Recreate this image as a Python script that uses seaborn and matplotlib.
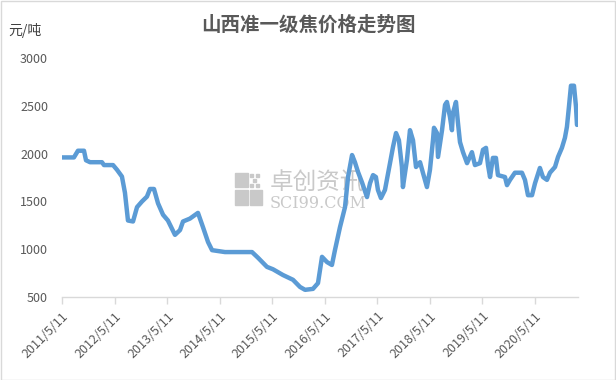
import pandas as pd
import matplotlib
matplotlib.use('Agg')
import matplotlib.pyplot as plt
import seaborn as sns
from matplotlib.patches import Rectangle

# Price data (元/吨)
dates = [
    '2011-05-11', '2011-08-02', '2011-08-30', '2011-10-11', '2011-10-25', '2011-11-22',
    '2012-02-13', '2012-02-27', '2012-04-30', '2012-05-28', '2012-07-01', '2012-07-22',
    '2012-08-12', '2012-09-16', '2012-10-14', '2012-11-18', '2012-12-22', '2013-01-12',
    '2013-02-09', '2013-03-09', '2013-04-13', '2013-05-17', '2013-07-05', '2013-08-09',
    '2013-08-30', '2013-10-17', '2013-12-12', '2014-01-16', '2014-02-20', '2014-03-20',
    '2014-06-18', '2014-12-23', '2015-02-03', '2015-04-06', '2015-05-18', '2015-07-26',
    '2015-10-04', '2015-11-22', '2015-12-27', '2016-02-20', '2016-03-26', '2016-04-23',
    '2016-05-28', '2016-07-01', '2016-07-22', '2016-08-26', '2016-09-30', '2016-10-21',
    '2016-11-18', '2016-12-08', '2016-12-29', '2017-01-26', '2017-03-02', '2017-03-23',
    '2017-04-13', '2017-05-03', '2017-05-17', '2017-06-07', '2017-07-05', '2017-08-09',
    '2017-08-30', '2017-09-20', '2017-10-10', '2017-10-31', '2017-11-07', '2017-12-05',
    '2017-12-26', '2018-01-16', '2018-02-06', '2018-03-06', '2018-03-26', '2018-04-23',
    '2018-05-14', '2018-06-04', '2018-06-11', '2018-07-02', '2018-07-09', '2018-08-06',
    '2018-08-27', '2018-09-09', '2018-09-30', '2018-10-14', '2018-10-21', '2018-11-11',
    '2018-11-25', '2018-12-09', '2018-12-30', '2019-01-27', '2019-03-02', '2019-03-23',
    '2019-04-27', '2019-05-18', '2019-06-08', '2019-06-22', '2019-07-06', '2019-07-26',
    '2019-08-16', '2019-08-30', '2019-10-18', '2019-11-01', '2019-11-22', '2019-12-26',
    '2020-02-13', '2020-03-05', '2020-03-26', '2020-04-23', '2020-05-14', '2020-06-17',
    '2020-07-08', '2020-08-05', '2020-08-26', '2020-09-30', '2020-10-21', '2020-11-17',
    '2020-12-08', '2020-12-22', '2021-01-05', '2021-01-19', '2021-02-09', '2021-02-23',
    '2021-03-02',
]
prices = [
    1960, 1960, 2030, 2030, 1930, 1910,
    1910, 1880, 1880, 1830, 1760, 1590,
    1300, 1290, 1440, 1500, 1550, 1630,
    1630, 1480, 1360, 1300, 1150, 1200,
    1290, 1320, 1380, 1230, 1075, 990,
    970, 970, 910, 815, 790, 730,
    680, 605, 575, 585, 645, 920,
    865, 835, 990, 1230, 1440, 1755,
    1985, 1910, 1810, 1700, 1545, 1690,
    1775, 1755, 1620, 1535, 1620, 1900,
    2070, 2215, 2140, 1860, 1650, 1935,
    2245, 2140, 1860, 1910, 1800, 1650,
    1830, 2140, 2270, 2215, 1965, 2245,
    2510, 2540, 2385, 2245, 2425, 2540,
    2320, 2120, 2015, 1900, 2015, 1880,
    1900, 2040, 2060, 1880, 1755, 1955,
    1955, 1775, 1755, 1670, 1725, 1800,
    1800, 1725, 1565, 1565, 1690, 1850,
    1755, 1725, 1800, 1860, 1965, 2060,
    2165, 2280, 2490, 2710, 2710, 2490,
    2300,
]

tick_dates = ['2011-05-11', '2012-05-11', '2013-05-11', '2014-05-11', '2015-05-11',
              '2016-05-11', '2017-05-11', '2018-05-11', '2019-05-11', '2020-05-11']
tick_labels = ['2011/5/11', '2012/5/11', '2013/5/11', '2014/5/11', '2015/5/11',
               '2016/5/11', '2017/5/11', '2018/5/11', '2019/5/11', '2020/5/11']
y_ticks = [500, 1000, 1500, 2000, 2500, 3000]

df = pd.DataFrame({'date': pd.to_datetime(dates), 'price': prices})

sns.set_theme(style='white')
plt.rcParams['font.family'] = ['Noto Sans CJK SC', 'DejaVu Sans']

fig = plt.figure(figsize=(6.16, 3.80), dpi=100)
ax = fig.add_axes([62 / 616, 1 - 297 / 380, (578 - 62) / 616, (297 - 58) / 380])
ax.set_zorder(2)

sns.lineplot(data=df, x='date', y='price', ax=ax, color='#5b9bd5', linewidth=3.2)

ax.set_xlim(pd.Timestamp('2011-05-11'), pd.Timestamp('2021-03-09'))
ax.set_ylim(500, 3000)
ax.set_yticks(y_ticks)
ax.set_yticklabels([str(v) for v in y_ticks], fontsize=9, color='#595959')
ax.set_xticks(pd.to_datetime(tick_dates))
ax.set_xticklabels(tick_labels, rotation=45, ha='right', rotation_mode='anchor',
                   fontsize=9, color='#595959')
ax.tick_params(axis='x', direction='out', length=5, width=1, color='#d9d9d9', pad=4,
               bottom=True)
ax.tick_params(axis='y', length=0, pad=10)
ax.set_xlabel('')
ax.set_ylabel('')
for side in ['top', 'right', 'left']:
    ax.spines[side].set_visible(False)
ax.spines['bottom'].set_color('#d9d9d9')
ax.spines['bottom'].set_linewidth(1)
ax.patch.set_alpha(0)

# Title and unit
fig.text(0.5, 1 - 25 / 380, '山西准一级焦价格走势图', ha='center', va='center',
         fontsize=14, fontweight='bold', color='#595959')
fig.text(8 / 616, 1 - 30 / 380, '元/吨', ha='left', va='center', fontsize=10, color='#404040')

# Watermark
wm = '#c9c9c9'
for (x0, y0, w, h) in [(235, 173, 13, 14), (235, 190, 13, 15), (250, 190, 12, 15)]:
    fig.add_artist(Rectangle((x0 / 616, 1 - (y0 + h) / 380), w / 616, h / 380,
                             transform=fig.transFigure, color=wm, zorder=0))
for (x0, y0) in [(250, 174), (256, 174), (253, 179), (250, 184), (256, 184)]:
    fig.add_artist(Rectangle((x0 / 616, 1 - (y0 + 3) / 380), 3 / 616, 3 / 380,
                             transform=fig.transFigure, color=wm, zorder=0))
fig.text(270 / 616, 1 - 183 / 380, '卓创资讯', ha='left', va='center', fontsize=17,
         color=wm, zorder=0)
fig.text(270 / 616, 1 - 203 / 380, 'SCI99.COM', ha='left', va='center', fontsize=11.5,
         family='DejaVu Serif', color=wm, zorder=0)

# Outer border
fig.add_artist(Rectangle((0.001, 0.001), 0.997, 0.997, transform=fig.transFigure,
                         fill=False, edgecolor='#d9d9d9', linewidth=1))

fig.savefig('out.png', dpi=100)
